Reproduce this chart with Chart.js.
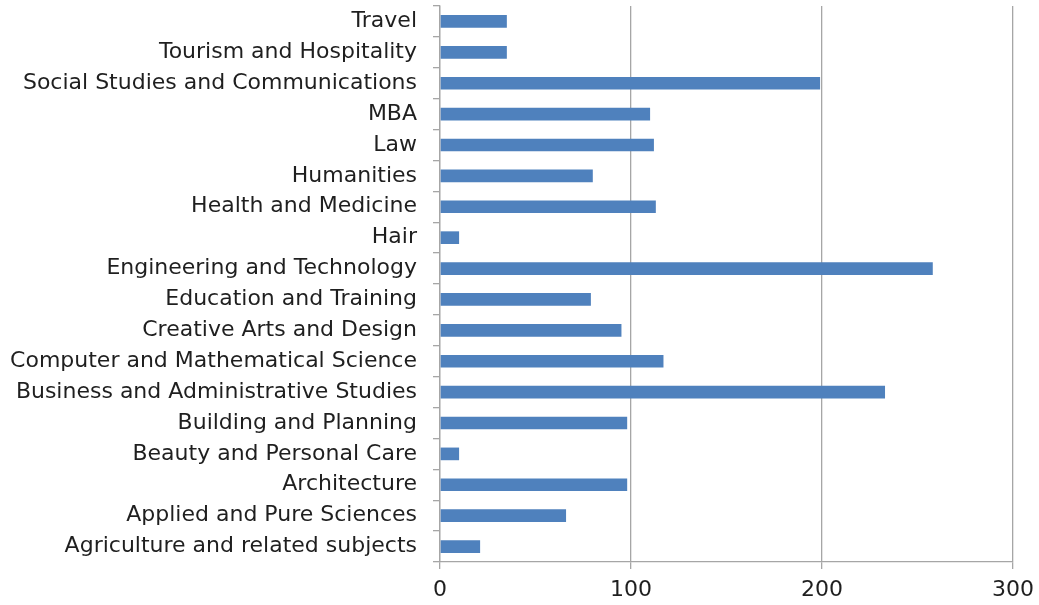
<!DOCTYPE html>
<html>
<head>
<meta charset="utf-8">
<script src="https://cdn.jsdelivr.net/npm/chart.js@4/dist/chart.umd.min.js"></script>
<style>
html,body{margin:0;padding:0;background:#fff;}
#wrap{width:1039px;height:605px;position:relative;}
</style>
</head>
<body>
<div id="wrap"><canvas id="c" width="1039" height="605"></canvas></div>
<script>
const categories = [
  "Agriculture and related subjects",
  "Applied and Pure Sciences",
  "Architecture",
  "Beauty and Personal Care",
  "Building and Planning",
  "Business and Administrative Studies",
  "Computer and Mathematical Science",
  "Creative Arts and Design",
  "Education and Training",
  "Engineering and Technology",
  "Hair",
  "Health and Medicine",
  "Humanities",
  "Law",
  "MBA",
  "Social Studies and Communications",
  "Tourism and Hospitality",
  "Travel"
];
const values = [21, 66, 98, 10, 98, 233, 117, 95, 79, 258, 10, 113, 80, 112, 110, 199, 35, 35];
const xTicks = [0, 100, 200, 300];

const fontFamily = "'DejaVu Sans', Verdana, sans-serif";
const gridColor = "#a6a6a6";
const textColor = "#1f1f1f";

new Chart(document.getElementById('c'), {
  type: 'bar',
  data: {
    labels: categories,
    datasets: [{
      data: values,
      backgroundColor: '#4f81bd',
      borderWidth: 0,
      categoryPercentage: 1,
      barPercentage: 0.41
    }]
  },
  options: {
    indexAxis: 'y',
    responsive: false,
    animation: false,
    layout: { padding: { top: 6, right: 26, left: 0, bottom: 0 } },
    plugins: { legend: { display: false }, tooltip: { enabled: false } },
    scales: {
      x: {
        min: 0, max: 300,
        afterBuildTicks: s => { s.ticks = xTicks.map(v => ({ value: v })); },
        afterFit: s => { s.height = 43; s.paddingLeft = 0; s.paddingRight = 0; },
        grid: { color: gridColor, lineWidth: 1.3, tickLength: 7, drawOnChartArea: true },
        border: { display: true, color: gridColor, width: 1.3 },
        ticks: { color: textColor, font: { family: fontFamily, size: 22 }, padding: 8 }
      },
      y: {
        reverse: true,
        afterFit: s => { s.width = 440; s.paddingTop = 0; s.paddingBottom = 0; },
        grid: { color: gridColor, lineWidth: 1.3, tickLength: 7, drawOnChartArea: false, offset: true },
        border: { display: true, color: gridColor, width: 1.3 },
        ticks: { color: textColor, font: { family: fontFamily, size: 22 }, padding: 16, autoSkip: false }
      }
    }
  }
});
</script>
</body>
</html>
